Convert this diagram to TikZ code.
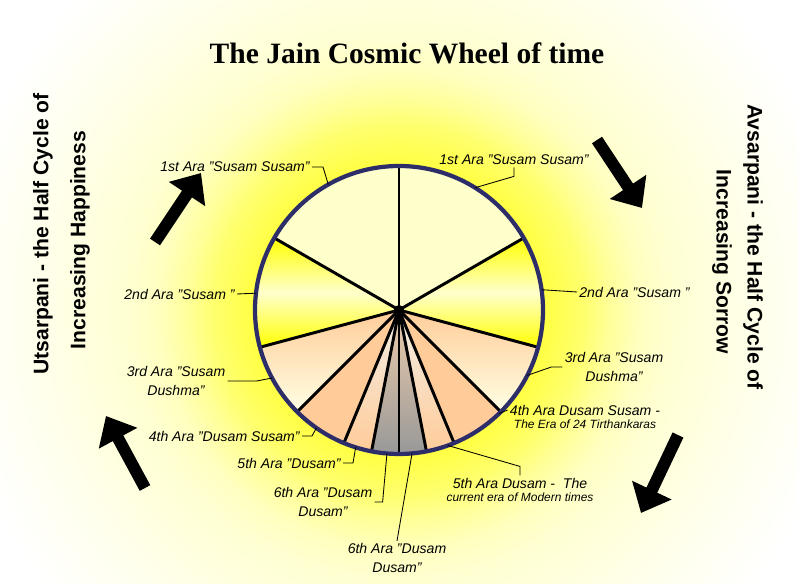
\documentclass[tikz,border=0pt]{standalone}
\usepackage{fontspec}
\setmainfont{Liberation Sans}
\newfontfamily\titlefont{Liberation Serif}
\usetikzlibrary{positioning, calc, arrows.meta}
\usepackage{xcolor}

\definecolor{paleyellow}{RGB}{255,255,204}
\definecolor{peach}{RGB}{255,204,153}
\definecolor{cream}{RGB}{255,255,228}
\definecolor{ashgray}{RGB}{152,152,152}
\definecolor{dusttan}{RGB}{238,205,172}
\definecolor{mistwhite}{RGB}{242,238,232}
\definecolor{rimblue}{RGB}{45,45,105}

% glow round the wheel, radii in bp (1px = 0.709bp)
\pgfdeclareradialshading{glow}{\pgfpoint{0bp}{0bp}}{color(0bp)=(yellow!72); color(106bp)=(yellow!72);
  color(131bp)=(yellow!57); color(149bp)=(yellow!40); color(170bp)=(yellow!25);
  color(191bp)=(yellow!18); color(227bp)=(yellow!12); color(269bp)=(yellow!6); color(319bp)=(white)}

\tikzset{ara/.style={font=\fontsize{10}{13.5}\selectfont\itshape, inner sep=1.5pt, align=center}}
\tikzset{arasmall/.style={font=\fontsize{8.5}{10}\selectfont\itshape, inner sep=1.5pt}}
\tikzset{leader/.style={draw=black, line width=0.6pt}}
\tikzset{spoke/.style={draw=black, line width=2.1pt}}
\tikzset{cyclearrow/.style={line width=8.5pt, -{Triangle[length=18pt, width=30pt]}}}
\tikzset{halfcycle/.style={font=\fontsize{15}{18}\selectfont\bfseries}}

\begin{document}
\begin{tikzpicture}[x=0.025cm, y=0.025cm]
  \useasboundingbox (0,0) rectangle (798,584);
  \def\R{144}
  \coordinate (hub) at (399,274);

  % glow behind the wheel
  \begin{scope}
    \clip (0,0) rectangle (798,584);
    \node[inner sep=0pt] (glow) at (hub) {\pgfuseshading{glow}};
  \end{scope}

  % the wheel
  \fill[paleyellow] (hub) circle[radius=\R];
  \shade[top color=yellow, bottom color=yellow, middle color=paleyellow]
    (hub) -- ($(hub)+(30:\R)$) arc[start angle=30, end angle=-15, radius=\R] -- cycle;
  \shade[top color=yellow, bottom color=yellow, middle color=paleyellow]
    (hub) -- ($(hub)+(150:\R)$) arc[start angle=150, end angle=195, radius=\R] -- cycle;
  \shade[top color=peach, bottom color=cream]
    (hub) -- ($(hub)+(-15:\R)$) arc[start angle=-15, end angle=-45, radius=\R] -- cycle;
  \shade[top color=peach, bottom color=cream]
    (hub) -- ($(hub)+(195:\R)$) arc[start angle=195, end angle=225, radius=\R] -- cycle;
  \fill[peach]
    (hub) -- ($(hub)+(-45:\R)$) arc[start angle=-45, end angle=-67.5, radius=\R] -- cycle;
  \fill[peach]
    (hub) -- ($(hub)+(225:\R)$) arc[start angle=225, end angle=247.5, radius=\R] -- cycle;
  \shade[top color=mistwhite, bottom color=peach]
    (hub) -- ($(hub)+(-67.5:\R)$) arc[start angle=-67.5, end angle=-79, radius=\R] -- cycle;
  \shade[top color=mistwhite, bottom color=peach]
    (hub) -- ($(hub)+(247.5:\R)$) arc[start angle=247.5, end angle=259, radius=\R] -- cycle;
  \shade[top color=dusttan, bottom color=ashgray]
    (hub) -- ($(hub)+(-79:\R)$) arc[start angle=-79, end angle=-90, radius=\R] -- cycle;
  \shade[top color=dusttan, bottom color=ashgray]
    (hub) -- ($(hub)+(259:\R)$) arc[start angle=259, end angle=270, radius=\R] -- cycle;

  \foreach \a in {90,30,150,-15,195,-45,225,-67.5,247.5,-79,259,-90}
    \draw[spoke] (hub) -- ($(hub)+(\a:\R)$);
  \draw[rimblue, line width=3pt] (hub) circle[radius=\R];
  \fill (hub) circle[radius=5];

  % rim points of the leaders
  \foreach \n/\a in {1l/119.4, 2l/173.3, 3l/208.2, 4l/235, 5l/252.5, 6l/265.2, 7/275.2,
                     1r/58.1, 2r/8.1, 3r/-27, 4r/-46, 5r/-70.2}
    \coordinate (rim\n) at ($(hub)+(\a:\R)$);

  % title and half cycles
  \node[font=\titlefont\bfseries\fontsize{21}{24}\selectfont] (title) at (407,531) {The Jain Cosmic Wheel of time};
  \node[halfcycle, rotate=90] (utsarpani) at (43,350) {Utsarpani - the Half Cycle of};
  \node[halfcycle, rotate=90] (happiness) at (80,344) {Increasing Happiness};
  \node[halfcycle, rotate=-90] (avsarpani) at (753,337) {Avsarpani - the Half Cycle of};
  \node[halfcycle, rotate=-90] (sorrow) at (722,322) {Increasing Sorrow};

  % left labels
  \node[ara, anchor=east] (lab1l) at (312,417) {1st Ara "Susam Susam"};
  \draw[leader] (lab1l.east) -- ++(11,0) -- (rim1l);
  \node[ara, anchor=east] (lab2l) at (237,290) {2nd Ara "Susam "};
  \draw[leader] (lab2l.east) -- (rim2l);
  \node[ara] (lab3l) at (176,203) {3rd Ara "Susam\\Dushma"};
  \draw[leader] (lab3l.east) -- ++(29,0) -- (rim3l);
  \node[ara, anchor=east] (lab4l) at (302,148) {4th Ara "Dusam Susam"};
  \draw[leader] (lab4l.east) -- ++(10,0) -- (rim4l);
  \node[ara, anchor=east] (lab5l) at (343,121) {5th Ara "Dusam"};
  \draw[leader] (lab5l.east) -- ++(10,0) -- (rim5l);
  \node[ara] (lab6l) at (323,82) {6th Ara "Dusam\\Dusam"};
  \draw[leader] (lab6l.east) -- ++(8,0) -- (rim6l);
  \node[ara] (lab7) at (397,26) {6th Ara "Dusam\\Dusam"};
  \draw[leader] (lab7.north) -- (rim7);

  % right labels
  \node[ara] (lab1r) at (514,424) {1st Ara "Susam Susam"};
  \draw[leader] (lab1r.south) -- ++(0,-9) -- (rim1r);
  \node[ara, anchor=west] (lab2r) at (577,292) {2nd Ara "Susam "};
  \draw[leader] (rim2r) -- (lab2r.west);
  \node[ara] (lab3r) at (614,217) {3rd Ara "Susam\\Dushma"};
  \draw[leader] (lab3r.west) -- ++(-11,0) -- (rim3r);
  \node[ara] (lab4r) at (585,174) {4th Ara Dusam Susam -};
  \node[arasmall, below=0pt of lab4r] (era4r) {The Era of 24 Tirthankaras};
  \draw[leader] (rim4r) -- (lab4r.west);
  \node[ara] (lab5r) at (520,101) {5th Ara Dusam - \ The};
  \node[arasmall, below=0pt of lab5r] (era5r) {current era of Modern times};
  \draw[leader] (rim5r) -- ($(lab5r.north)+(0,9)$) -- (lab5r.north);

  % direction of the cycle
  \coordinate (ul0) at (155,342); \coordinate (ul1) at (201,411);
  \coordinate (ll0) at (145,96);  \coordinate (ll1) at (106,168);
  \coordinate (ur0) at (597,444); \coordinate (ur1) at (642,376);
  \coordinate (lr0) at (678,149); \coordinate (lr1) at (641,71);
  \draw[cyclearrow] (ul0) -- (ul1);
  \draw[cyclearrow] (ll0) -- (ll1);
  \draw[cyclearrow] (ur0) -- (ur1);
  \draw[cyclearrow] (lr0) -- (lr1);
\end{tikzpicture}
\end{document}
